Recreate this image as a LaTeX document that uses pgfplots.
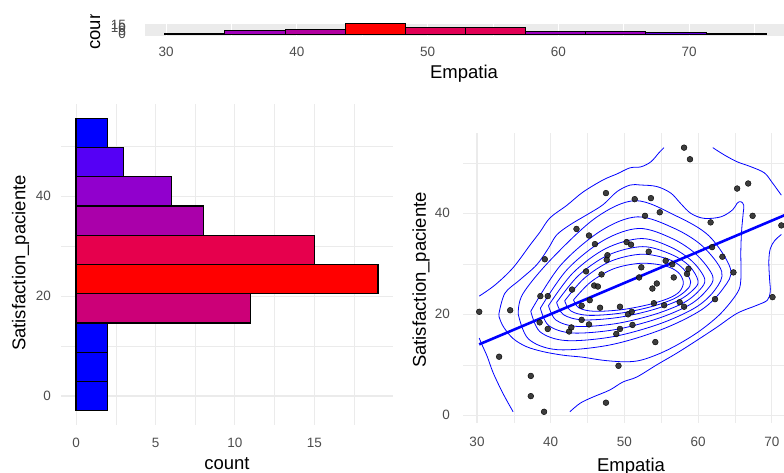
\documentclass[border=0pt]{standalone}
\usepackage{fontspec}
\setmainfont{Liberation Sans}
\usepackage{pgfplots}
\pgfplotsset{compat=1.18}
\definecolor{gridc}{RGB}{235,235,235}
\definecolor{bandgray}{RGB}{235,235,235}
\definecolor{tickc}{RGB}{77,77,77}
\definecolor{hA}{RGB}{0,0,255}
\definecolor{hB}{RGB}{85,0,245}
\definecolor{hC}{RGB}{145,0,205}
\definecolor{hD}{RGB}{170,0,170}
\definecolor{hE}{RGB}{204,0,120}
\definecolor{hF}{RGB}{230,0,77}
\definecolor{hG}{RGB}{255,0,0}
\definecolor{tB}{RGB}{100,0,225}
\definecolor{tC}{RGB}{155,0,190}
\definecolor{tD}{RGB}{160,0,185}
\definecolor{tE}{RGB}{178,0,160}
\definecolor{tF}{RGB}{225,0,85}
\definecolor{ptc}{RGB}{40,40,40}
\pgfplotsset{
  base/.style={
    scale only axis, anchor=south west,
    axis line style={draw=none}, tick style={draw=none},
    major tick length=0pt, minor tick length=0pt,
    /pgf/number format/assume math mode=true,
    ticklabel style={font=\fontsize{13.5}{14}\selectfont, text=tickc, inner sep=0pt},
    major grid style={gridc, line width=1.1pt},
    minor grid style={gridc, line width=0.55pt},
  },
  cont/.style={blue, line width=0.8pt, smooth, tension=0.55, mark=none},
  hbar/.style={draw=black, line width=1.2pt, mark=none},
  vbar/.style={ybar interval, draw=black, line width=0.9pt},
}
\newcommand{\ttl}{\fontsize{18.5}{19}\selectfont}
\begin{document}
\begin{tikzpicture}
\useasboundingbox (0pt,0pt) rectangle (784pt,473pt);

% ---------- top marginal histogram ----------
\begin{axis}[base,
  at={(145pt,437.3pt)}, width=639pt, height=11.7pt,
  xmin=28.39, xmax=77.26, ymin=-2.16, ymax=15.92, clip=false,
  axis background/.style={fill=bandgray},
  xmajorgrids, xminorgrids, ymajorgrids=false,
  major grid style={white, line width=1.1pt},
  minor grid style={white, line width=0.55pt},
  xtick={30,40,50,60,70}, minor xtick={35,45,55,65,75},
  ytick={0,5,10,15},
  xticklabel style={anchor=north, yshift=-11pt},
  yticklabel style={anchor=east, xshift=-19pt},
]
\addplot[vbar, fill=hA] coordinates {(29.9,2) (34.5,2)};
\addplot[vbar, fill=tD] coordinates {(34.5,6) (39.1,6)};
\addplot[vbar, fill=tE] coordinates {(39.1,8) (43.7,8)};
\addplot[vbar, fill=hG] coordinates {(43.7,17) (48.3,17)};
\addplot[vbar, fill=tF] coordinates {(48.3,11) (52.9,11)};
\addplot[vbar, fill=tF] coordinates {(52.9,11) (57.5,11)};
\addplot[vbar, fill=tC] coordinates {(57.5,5) (62.1,5)};
\addplot[vbar, fill=tC] coordinates {(62.1,5) (66.7,5)};
\addplot[vbar, fill=tB] coordinates {(66.7,3) (71.3,3)};
\addplot[vbar, fill=hA] coordinates {(71.3,2) (75.9,2)};
\end{axis}
\node[anchor=base] at (464pt,394.5pt) {\ttl Empatia};
\begin{scope}
\clip (60pt,360pt) rectangle (140pt,458pt);
\node[rotate=90, anchor=base west, inner sep=0pt] at (100pt,423pt) {\ttl count};
\end{scope}

% ---------- left histogram (horizontal) ----------
\begin{axis}[base,
  at={(61pt,47.75pt)}, width=332pt, height=321.5pt,
  xmin=-0.95, xmax=19.95, ymin=-5.85, ymax=58.5,
  grid=both,
  xtick={0,5,10,15}, minor xtick={2.5,7.5,12.5,17.5},
  ytick={0,20,40}, minor ytick={10,30,50},
  xticklabel style={anchor=north, yshift=-13pt},
  yticklabel style={anchor=east, xshift=-10pt},
]
\addplot[hbar, fill=hA] coordinates {(0,-2.925) (2,-2.925) (2,2.925) (0,2.925)} --cycle;
\addplot[hbar, fill=hA] coordinates {(0,2.925) (2,2.925) (2,8.775) (0,8.775)} --cycle;
\addplot[hbar, fill=hA] coordinates {(0,8.775) (2,8.775) (2,14.625) (0,14.625)} --cycle;
\addplot[hbar, fill=hE] coordinates {(0,14.625) (11,14.625) (11,20.475) (0,20.475)} --cycle;
\addplot[hbar, fill=hG] coordinates {(0,20.475) (19,20.475) (19,26.325) (0,26.325)} --cycle;
\addplot[hbar, fill=hF] coordinates {(0,26.325) (15,26.325) (15,32.175) (0,32.175)} --cycle;
\addplot[hbar, fill=hD] coordinates {(0,32.175) (8,32.175) (8,38.025) (0,38.025)} --cycle;
\addplot[hbar, fill=hC] coordinates {(0,38.025) (6,38.025) (6,43.875) (0,43.875)} --cycle;
\addplot[hbar, fill=hB] coordinates {(0,43.875) (3,43.875) (3,49.725) (0,49.725)} --cycle;
\addplot[hbar, fill=hA] coordinates {(0,49.725) (2,49.725) (2,55.575) (0,55.575)} --cycle;
\end{axis}
\node[rotate=90, anchor=center] at (20.5pt,210pt) {\ttl Satisfaction\_paciente};
\node[anchor=base] at (227pt,3.5pt) {\ttl count};

% ---------- scatter with density contours ----------
\begin{axis}[base,
  at={(463pt,50pt)}, width=321pt, height=290pt,
  xmin=28.1, xmax=71.66, ymin=-1.52, ymax=55.9,
  grid=both,
  xtick={30,40,50,60,70}, minor xtick={35,45,55,65},
  ytick={0,20,40}, minor ytick={10,30,50},
  xticklabel style={anchor=north, yshift=-13.5pt},
  yticklabel style={anchor=east, xshift=-13pt},
]
% outer level pieces
\addplot[cont] coordinates {(30.3,23.6) (32.44,25.8) (34.88,29.2) (37.19,33.7) (38.55,36.3) (39.91,39.1) (42.21,41.6) (44.38,44.2) (47.1,46.6) (49.0,47.8) (50.76,49.0) (52.25,49.2) (53.6,50.2) (54.7,52.0) (55.37,53.0)};
\addplot[cont] coordinates {(62.0,53.0) (63.5,51.6) (65.3,50.2) (67.2,49.2) (69.0,48.0) (70.0,46.2) (70.8,44.6) (71.3,43.6)};
\addplot[cont] coordinates {(30.3,15.3) (30.7,13.9) (31.4,11.6) (32.2,8.4) (33.5,4.4) (34.9,0.7)};
\addplot[cont] coordinates {(42.6,0.7) (44.0,2.4) (45.7,3.6) (48.0,5.0) (49.8,6.6) (51.7,7.6) (54.4,10.0) (57.1,12.3) (59.9,14.9) (62.6,17.5) (65.3,20.2) (68.0,21.8) (69.4,22.8) (69.8,24.5) (69.7,27.0) (69.6,30.5) (69.8,33.0) (70.4,34.6) (71.3,35.8)};
% level 2
\addplot[cont] coordinates {(33.0,20.3) (33.8,24.2) (35.8,26.8) (38.1,29.8) (39.7,33.1) (40.8,35.7) (42.6,37.7) (44.9,39.7) (47.1,41.7) (49.0,44.3) (50.8,45.6) (52.2,45.6) (54.4,45.3) (56.3,44.0) (57.6,42.0) (59.0,40.0) (60.8,39.0) (63.1,39.3) (64.7,40.7) (65.3,42.0) (65.8,42.3) (66.2,41.6) (66.1,39.7) (65.9,36.4) (65.8,32.4) (65.8,26.8) (65.3,24.2) (63.1,20.2) (60.4,16.9) (57.6,14.3) (54.9,12.3) (52.2,10.9) (50.0,10.6) (47.1,10.9) (44.4,11.5) (41.7,11.9) (39.0,12.6) (36.7,13.6) (34.9,15.2) (33.6,17.5) (33.0,19.5) (33.0,20.3)};
% level 3
\addplot[cont] coordinates {(35.6,19.99) (36.2,24.0) (40.09,30.94) (46.17,39.17) (51.5,42.5) (57.0,39.5) (61.5,35.5) (64.4,29.0) (63.42,25.15) (60.48,20.91) (54.98,16.95) (47.96,13.91) (40.9,13.0) (36.98,15.12) (35.6,19.99)};
% level 4
\addplot[cont] coordinates {(37.3,20.61) (41.34,29.7) (46.81,36.53) (51.8,39.3) (56.8,37.0) (60.6,33.5) (63.2,28.5) (62.32,24.89) (59.68,21.37) (54.73,18.08) (48.41,15.56) (42.07,14.8) (38.54,16.56) (37.3,20.61)};
% level 5
\addplot[cont] coordinates {(38.6,21.21) (42.25,28.89) (47.19,34.66) (52.0,37.0) (56.5,35.0) (59.8,31.8) (62.0,27.5) (61.2,24.83) (58.82,21.85) (54.35,19.07) (48.64,16.94) (42.91,16.3) (39.72,17.79) (38.6,21.21)};
% level 6
\addplot[cont] coordinates {(39.7,21.72) (43.01,28.18) (47.48,33.03) (52.3,35.0) (56.3,33.3) (59.2,30.5) (60.9,27.0) (60.18,24.77) (58.02,22.26) (53.97,19.93) (48.79,18.14) (43.6,17.6) (40.72,18.85) (39.7,21.72)};
% level 7
\addplot[cont] coordinates {(40.8,22.34) (43.8,27.72) (47.85,31.76) (52.5,33.4) (56.3,31.9) (58.8,29.6) (60.0,26.6) (59.35,24.87) (57.39,22.79) (53.72,20.84) (49.04,19.35) (44.33,18.9) (41.72,19.94) (40.8,22.34)};
% level 8
\addplot[cont] coordinates {(41.9,22.67) (44.57,27.16) (48.18,30.53) (52.37,31.9) (56.0,30.9) (58.0,29.0) (59.0,26.4) (58.42,24.79) (56.67,23.04) (53.41,21.42) (49.24,20.18) (45.05,19.8) (42.72,20.67) (41.9,22.67)};
% level 9
\addplot[cont] coordinates {(43.1,22.85) (45.42,26.38) (48.57,29.03) (52.22,30.1) (55.47,29.61) (57.28,28.33) (58.0,26.38) (57.49,24.51) (55.97,23.15) (53.13,21.87) (49.49,20.89) (45.84,20.6) (43.82,21.28) (43.1,22.85)};
% points
\addplot[only marks, mark=*, mark size=2.9pt, mark options={draw=none, fill=ptc, fill opacity=0.9}] coordinates {
(30.3,20.5) (33.0,11.6) (34.5,20.8) (37.3,7.8) (37.3,3.8) (39.1,0.7) (39.2,30.9) (38.6,23.6) (39.6,23.6) (38.5,18.4)
(39.6,17.1) (43.5,36.9) (42.9,24.9) (42.5,16.6) (42.8,17.4) (44.2,21.7) (44.2,18.9) (45.2,18.0) (44.8,28.5) (45.2,35.6)
(45.3,22.8) (46.0,33.9) (45.9,25.7) (46.4,25.5) (46.9,27.9) (46.7,21.3) (47.5,44.0) (47.7,31.7) (47.6,30.8) (47.5,2.5)
(49.4,21.5) (49.4,17.1) (48.9,16.1) (49.2,9.8) (50.3,34.3) (50.9,33.8) (50.5,20.0) (51.0,20.5) (51.1,17.9) (51.4,42.8)
(52.3,29.3) (52.0,27.3) (52.8,39.5) (53.6,43.0) (53.3,32.4) (53.8,25.1) (54.4,26.1) (54.0,22.2) (54.2,14.5) (54.8,40.2)
(55.6,30.6) (55.4,21.8) (56.5,29.9) (56.7,27.3) (57.5,22.4) (58.1,21.5) (58.5,28.0) (58.7,29.0) (58.1,53.0) (58.9,50.7)
(61.7,38.2) (61.9,33.3) (63.3,31.4) (62.3,23.0) (64.8,28.3) (65.3,44.9) (66.8,45.9) (67.4,39.5) (70.1,23.4) (71.3,37.6)};
% regression line
\addplot[blue, line width=2.6pt, mark=none] coordinates {(30.3,14.05) (71.7,39.6)};
\end{axis}
\node[rotate=90, anchor=center] at (421pt,193pt) {\ttl Satisfaction\_paciente};
\node[anchor=base] at (631pt,1.5pt) {\ttl Empatia};
\end{tikzpicture}
\end{document}
